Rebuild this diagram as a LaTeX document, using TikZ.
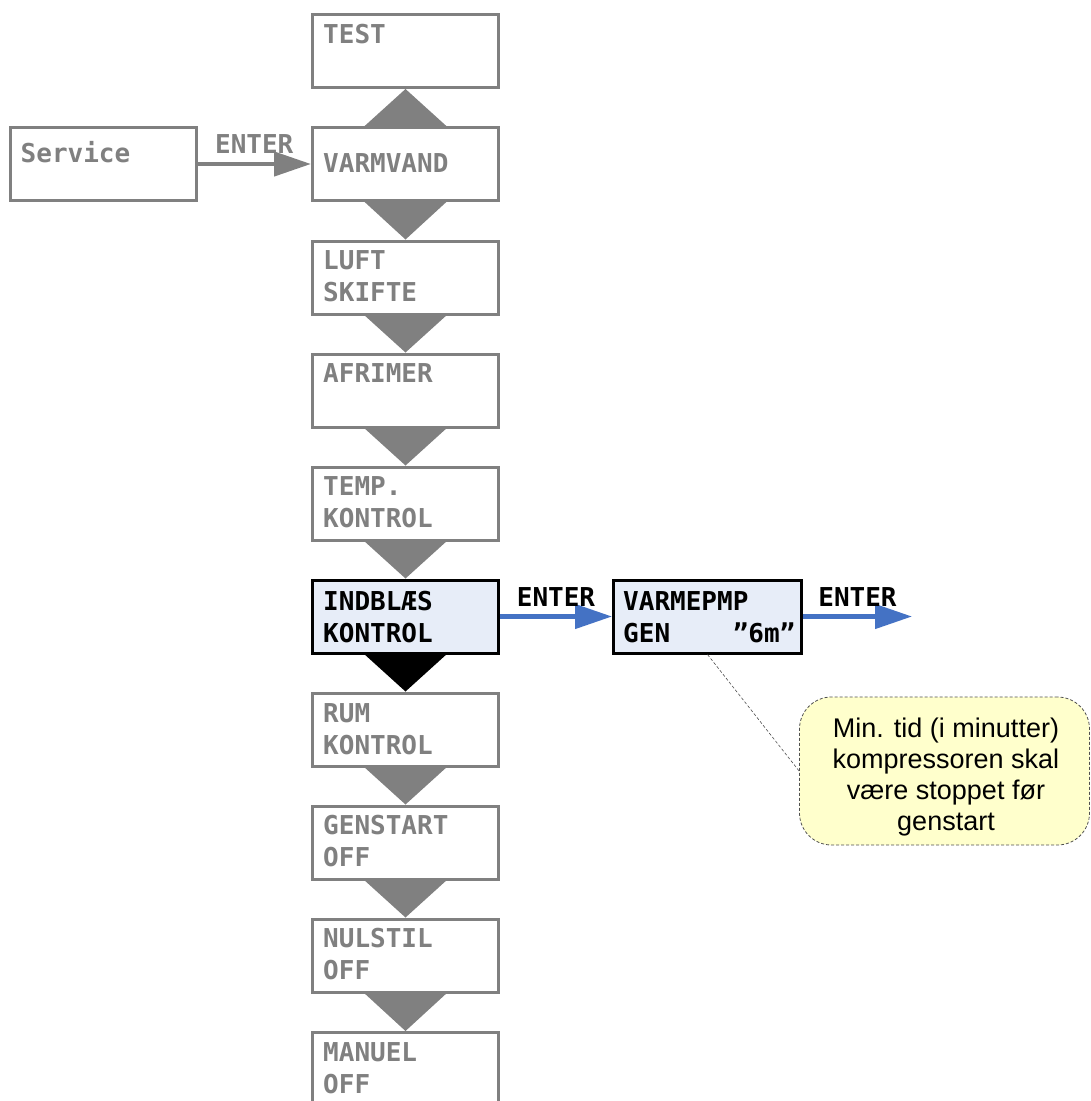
\documentclass[tikz,border=0pt]{standalone}
\usepackage{fontspec}
\newfontfamily\menufont{DejaVu Sans Mono}
\newfontfamily\notefont{Liberation Sans}
\usetikzlibrary{calc,arrows.meta}

\definecolor{menugray}{RGB}{128,128,128}
\definecolor{selfill}{RGB}{231,237,248}
\definecolor{enterblue}{RGB}{68,114,196}
\definecolor{notefill}{RGB}{255,255,204}
\definecolor{notedraw}{RGB}{80,80,80}

\tikzset{
  menubox/.style={draw=menugray, line width=3pt, fill=white, minimum width=186pt,
    minimum height=73pt, inner sep=0pt},
  selbox/.style={menubox, draw=black, fill=selfill},
  menutext/.style={anchor=base west, inner sep=0pt, text=menugray,
    font=\menufont\bfseries\fontsize{26}{32}\selectfont},
  seltext/.style={menutext, text=black},
  grayarrow/.style={draw=menugray, line width=4.5pt, line cap=round,
    -{Triangle[length=37pt,width=24pt]}},
  bluearrow/.style={draw=enterblue, line width=4.5pt,
    -{Triangle[length=37pt,width=24pt]}},
  notebox/.style={draw=notedraw, line width=0.8pt, dash pattern=on 3pt off 2pt,
    fill=notefill, rounded corners=32pt, minimum width=290pt, minimum height=148pt},
}

\begin{document}
\begin{tikzpicture}[x=1pt, y=-1pt]
  \useasboundingbox (0,0) rectangle (1091,1101);
  \clip (0,0) rectangle (1091,1101);

  % menu column
  \node[menubox] (test)     at (405.5,51)    {};
  \node[menubox] (varmvand) at (405.5,164)   {};
  \node[menubox] (luft)     at (405.5,277.5) {};
  \node[menubox] (afrimer)  at (405.5,390.5) {};
  \node[menubox] (temp)     at (405.5,503.5) {};
  \node[selbox]  (indblaes) at (405.5,616.5) {};
  \node[menubox] (rum)      at (405.5,729.5) {};
  \node[menubox] (genstart) at (405.5,842.5) {};
  \node[menubox] (nulstil)  at (405.5,955.5) {};
  \node[menubox] (manuel)   at (405.5,1069)  {};

  % side boxes
  \node[menubox] (service)  at (103,164)     {};
  \node[selbox, minimum width=188pt] (varmepmp) at (707.5,616.5) {};

  % step triangles between the menu entries
  \fill[menugray] ($(varmvand.north)+(-42.5,1.5)$) -- ($(varmvand.north)+(42.5,1.5)$) -- (test.south) -- cycle;
  \foreach \a/\b in {varmvand/luft, luft/afrimer, afrimer/temp, temp/indblaes,
                     rum/genstart, genstart/nulstil, nulstil/manuel}
    \fill[menugray] ($(\a.south)+(-42.5,-1.5)$) -- ($(\a.south)+(42.5,-1.5)$) -- (\b.north) -- cycle;
  \fill[black] ($(indblaes.south)+(-42.5,-1.5)$) -- ($(indblaes.south)+(42.5,-1.5)$) -- (rum.north) -- cycle;

  % menu texts
  \node[menutext] (tTest)  at ($(test.north west)+(12,30)$) {TEST};
  \node[menutext] (tVarm)  at ($(varmvand.north west)+(12,46)$) {VARMVAND};
  \node[menutext] (tLuft1) at ($(luft.north west)+(12,30)$) {LUFT};
  \node[menutext] (tLuft2) at ($(luft.north west)+(12,62)$) {SKIFTE};
  \node[menutext] (tAfr)   at ($(afrimer.north west)+(12,30)$) {AFRIMER};
  \node[menutext] (tTemp1) at ($(temp.north west)+(12,30)$) {TEMP.};
  \node[menutext] (tTemp2) at ($(temp.north west)+(12,62)$) {KONTROL};
  \node[seltext]  (tInd1)  at ($(indblaes.north west)+(12,32)$) {INDBLÆS};
  \node[seltext]  (tInd2)  at ($(indblaes.north west)+(12,64)$) {KONTROL};
  \node[menutext] (tRum1)  at ($(rum.north west)+(12,31)$) {RUM};
  \node[menutext] (tRum2)  at ($(rum.north west)+(12,63)$) {KONTROL};
  \node[menutext] (tGen1)  at ($(genstart.north west)+(12,30)$) {GENSTART};
  \node[menutext] (tGen2)  at ($(genstart.north west)+(12,62)$) {OFF};
  \node[menutext] (tNul1)  at ($(nulstil.north west)+(12,30)$) {NULSTIL};
  \node[menutext] (tNul2)  at ($(nulstil.north west)+(12,62)$) {OFF};
  \node[menutext] (tMan1)  at ($(manuel.north west)+(12,30)$) {MANUEL};
  \node[menutext] (tMan2)  at ($(manuel.north west)+(12,62)$) {OFF};
  \node[menutext] (tServ)  at ($(service.north west)+(12,36)$) {Service};
  \node[seltext]  (tPmp1)  at ($(varmepmp.north west)+(11,32)$) {VARMEPMP};
  \node[seltext]  (tPmp2)  at ($(varmepmp.north west)+(11,64)$) {GEN\ \ \ \ ”6m”};

  % ENTER transitions
  \draw[grayarrow] (service.east) -- (varmvand.west);
  \node[menutext, anchor=base] (eServ) at ($($(service.east)!0.5!(varmvand.west)$)+(0,-11)$) {ENTER};

  \coordinate (next) at (912,616.5);
  \draw[bluearrow] (indblaes.east) -- (varmepmp.west);
  \draw[bluearrow] (varmepmp.east) -- (next);
  \node[seltext, anchor=base] (eInd) at ($($(indblaes.east)!0.5!(varmepmp.west)$)+(0,-10)$) {ENTER};
  \node[seltext, anchor=base] (ePmp) at ($($(varmepmp.east)!0.5!(next)$)+(0,-10)$) {ENTER};

  % explanatory note
  \node[notebox] (note) at (944.5,771) {};
  \draw[notedraw, line width=0.6pt, dash pattern=on 3pt off 2pt] (varmepmp.south) -- (note.west);
  \node[anchor=north, inner sep=0pt, align=center,
        font=\notefont\fontsize{27}{31}\selectfont] (noteText) at (946,718)
    {Min. tid (i minutter)\\kompressoren skal\\være stoppet før\\genstart};
\end{tikzpicture}
\end{document}
